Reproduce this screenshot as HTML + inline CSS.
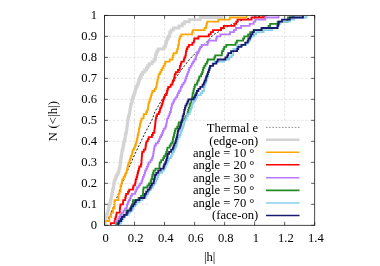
<!DOCTYPE html>
<html><head><meta charset="utf-8"><title>plot</title>
<style>
html,body{margin:0;padding:0;background:#fff;}
body{width:380px;height:266px;position:relative;overflow:hidden;font-family:"Liberation Serif",serif;font-size:12.6px;color:#000;}
.yt{position:absolute;left:39.6px;width:57.5px;text-align:right;line-height:14px;height:14px;}
.xt{position:absolute;top:231.3px;width:40px;text-align:center;line-height:14px;height:14px;}
.lg{position:absolute;left:150px;width:107.5px;text-align:right;line-height:14px;height:14px;white-space:nowrap;}
.xl{position:absolute;left:189.6px;width:40px;top:250.2px;text-align:center;line-height:14px;}
.yl{position:absolute;left:3.4px;top:113.5px;letter-spacing:0.15px;width:100px;height:14px;line-height:14px;text-align:center;transform:rotate(-90deg);transform-origin:50% 50%;white-space:nowrap;}
.txt{position:absolute;left:0;top:0;width:380px;height:266px;will-change:transform;transform:translateZ(0);}
</style></head><body>
<svg width="380" height="266" viewBox="0 0 380 266" style="position:absolute;left:0;top:0">
<g stroke="#d8d8dc" stroke-width="0.7" stroke-dasharray="2.3,1.8" fill="none"><line x1="134.53" y1="15.40" x2="134.53" y2="225.30"/><line x1="164.56" y1="15.40" x2="164.56" y2="225.30"/><line x1="194.59" y1="15.40" x2="194.59" y2="225.30"/><line x1="224.61" y1="15.40" x2="224.61" y2="225.30"/><line x1="254.64" y1="15.40" x2="254.64" y2="225.30"/><line x1="284.67" y1="15.40" x2="284.67" y2="225.30"/><line x1="104.50" y1="204.31" x2="314.70" y2="204.31"/><line x1="104.50" y1="183.32" x2="314.70" y2="183.32"/><line x1="104.50" y1="162.33" x2="314.70" y2="162.33"/><line x1="104.50" y1="141.34" x2="314.70" y2="141.34"/><line x1="104.50" y1="120.35" x2="314.70" y2="120.35"/><line x1="104.50" y1="99.36" x2="314.70" y2="99.36"/><line x1="104.50" y1="78.37" x2="314.70" y2="78.37"/><line x1="104.50" y1="57.38" x2="314.70" y2="57.38"/><line x1="104.50" y1="36.39" x2="314.70" y2="36.39"/></g>
<rect x="150" y="121" width="161" height="103" fill="#fff"/>
<g stroke="#1a1a1a" stroke-width="0.7"><line x1="104.50" y1="225.30" x2="104.50" y2="221.80"/><line x1="104.50" y1="15.40" x2="104.50" y2="18.90"/><line x1="134.53" y1="225.30" x2="134.53" y2="221.80"/><line x1="134.53" y1="15.40" x2="134.53" y2="18.90"/><line x1="164.56" y1="225.30" x2="164.56" y2="221.80"/><line x1="164.56" y1="15.40" x2="164.56" y2="18.90"/><line x1="194.59" y1="225.30" x2="194.59" y2="221.80"/><line x1="194.59" y1="15.40" x2="194.59" y2="18.90"/><line x1="224.61" y1="225.30" x2="224.61" y2="221.80"/><line x1="224.61" y1="15.40" x2="224.61" y2="18.90"/><line x1="254.64" y1="225.30" x2="254.64" y2="221.80"/><line x1="254.64" y1="15.40" x2="254.64" y2="18.90"/><line x1="284.67" y1="225.30" x2="284.67" y2="221.80"/><line x1="284.67" y1="15.40" x2="284.67" y2="18.90"/><line x1="314.70" y1="225.30" x2="314.70" y2="221.80"/><line x1="314.70" y1="15.40" x2="314.70" y2="18.90"/><line x1="104.50" y1="225.30" x2="108.00" y2="225.30"/><line x1="314.70" y1="225.30" x2="311.20" y2="225.30"/><line x1="104.50" y1="204.31" x2="108.00" y2="204.31"/><line x1="314.70" y1="204.31" x2="311.20" y2="204.31"/><line x1="104.50" y1="183.32" x2="108.00" y2="183.32"/><line x1="314.70" y1="183.32" x2="311.20" y2="183.32"/><line x1="104.50" y1="162.33" x2="108.00" y2="162.33"/><line x1="314.70" y1="162.33" x2="311.20" y2="162.33"/><line x1="104.50" y1="141.34" x2="108.00" y2="141.34"/><line x1="314.70" y1="141.34" x2="311.20" y2="141.34"/><line x1="104.50" y1="120.35" x2="108.00" y2="120.35"/><line x1="314.70" y1="120.35" x2="311.20" y2="120.35"/><line x1="104.50" y1="99.36" x2="108.00" y2="99.36"/><line x1="314.70" y1="99.36" x2="311.20" y2="99.36"/><line x1="104.50" y1="78.37" x2="108.00" y2="78.37"/><line x1="314.70" y1="78.37" x2="311.20" y2="78.37"/><line x1="104.50" y1="57.38" x2="108.00" y2="57.38"/><line x1="314.70" y1="57.38" x2="311.20" y2="57.38"/><line x1="104.50" y1="36.39" x2="108.00" y2="36.39"/><line x1="314.70" y1="36.39" x2="311.20" y2="36.39"/><line x1="104.50" y1="15.40" x2="108.00" y2="15.40"/><line x1="314.70" y1="15.40" x2="311.20" y2="15.40"/></g>
<clipPath id="c"><rect x="104.50" y="15.40" width="210.20" height="209.90"/></clipPath><g clip-path="url(#c)">
<polyline points="104.5,225.0 108.0,219.5 110.4,214.5 112.8,208.5 115.3,201.5 118.0,195.0 120.0,189.5 122.1,183.5 124.7,177.0 126.9,172.0 128.9,167.6 134.0,156.0 139.3,145.0 145.5,132.0 152.0,120.0 155.0,111.6 162.5,98.8 168.0,90.0 175.0,78.8 182.0,69.0 190.0,58.8 197.6,51.0 206.5,42.3 213.3,34.8 217.5,32.5 225.0,28.0 232.0,24.5 240.0,20.8 249.0,18.2 258.0,16.5 268.0,15.6" fill="none" stroke="#000" stroke-width="0.9" stroke-dasharray="2,1.7"/>
<polyline points="104.5,225.3 104.5,225.3 104.5,223.2 105.1,223.2 105.1,221.1 105.5,221.1 105.5,219.0 105.9,219.0 105.9,216.9 106.5,216.9 106.5,214.8 107.1,214.8 107.1,212.7 107.8,212.7 107.8,210.6 108.5,210.6 108.5,208.5 108.8,208.5 108.8,206.4 109.4,206.4 109.4,204.3 110.2,204.3 110.2,202.2 110.5,202.2 110.5,200.1 111.1,200.1 111.1,198.0 111.3,198.0 111.3,195.9 111.8,195.9 111.8,193.8 112.3,193.8 112.3,191.7 112.5,191.7 112.5,189.6 113.2,189.6 113.2,187.5 113.6,187.5 113.6,185.4 113.8,185.4 113.8,183.3 114.2,183.3 114.2,181.2 114.8,181.2 114.8,179.1 115.7,179.1 115.7,177.0 116.6,177.0 116.6,174.9 117.8,174.9 117.8,172.8 118.7,172.8 118.7,170.7 119.1,170.7 119.1,168.6 119.7,168.6 119.7,166.5 120.1,166.5 120.1,164.4 120.4,164.4 120.4,162.3 120.6,162.3 120.6,160.2 120.9,160.2 120.9,158.1 121.2,158.1 121.2,156.0 121.6,156.0 121.6,153.9 121.9,153.9 121.9,151.8 122.2,151.8 122.2,149.7 122.9,149.7 122.9,147.6 123.2,147.6 123.2,145.5 123.7,145.5 123.7,143.4 124.0,143.4 124.0,141.3 124.7,141.3 124.7,139.2 125.1,139.2 125.1,137.1 125.3,137.1 125.3,135.0 125.8,135.0 125.8,132.9 126.4,132.9 126.4,130.8 126.7,130.8 126.7,128.7 127.0,128.7 127.0,126.6 127.2,126.6 127.2,124.5 127.5,124.5 127.5,122.4 127.7,122.4 127.7,120.4 127.9,120.4 127.9,118.3 128.5,118.3 128.5,116.2 129.1,116.2 129.1,114.1 129.6,114.1 129.6,112.0 129.9,112.0 129.9,109.9 130.3,109.9 130.3,107.8 130.6,107.8 130.6,105.7 131.0,105.7 131.0,103.6 131.8,103.6 131.8,101.5 132.2,101.5 132.2,99.4 132.7,99.4 132.7,97.3 133.5,97.3 133.5,95.2 134.2,95.2 134.2,93.1 134.9,93.1 134.9,91.0 135.5,91.0 135.5,88.9 136.2,88.9 136.2,86.8 137.1,86.8 137.1,84.7 138.1,84.7 138.1,82.6 138.7,82.6 138.7,80.5 139.4,80.5 139.4,78.4 140.3,78.4 140.3,76.3 141.2,76.3 141.2,74.2 142.6,74.2 142.6,72.1 144.6,72.1 144.6,70.0 146.5,70.0 146.5,67.9 147.7,67.9 147.7,65.8 149.2,65.8 149.2,63.7 152.0,63.7 152.0,61.6 154.0,61.6 154.0,59.5 155.2,59.5 155.2,57.4 155.6,57.4 155.6,55.3 156.0,55.3 156.0,53.2 156.9,53.2 156.9,51.1 158.1,51.1 158.1,49.0 163.9,49.0 163.9,46.9 165.3,46.9 165.3,44.8 165.9,44.8 165.9,42.7 166.5,42.7 166.5,40.6 167.1,40.6 167.1,38.5 168.3,38.5 168.3,36.4 169.6,36.4 169.6,34.3 169.8,34.3 169.8,32.2 171.0,32.2 171.0,30.1 173.4,30.1 173.4,28.0 179.0,28.0 179.0,25.9 182.2,25.9 182.2,23.8 184.5,23.8 184.5,21.7 189.3,21.7 189.3,19.6 200.3,19.6 200.3,17.5 222.0,17.5 222.0,15.4" fill="none" stroke="#d3d3d3" stroke-width="2.9" stroke-linejoin="miter"/>
<polyline points="104.5,225.3 104.5,225.3 104.5,223.2 104.5,223.2 104.5,221.1 109.3,221.1 109.3,219.0 109.3,219.0 109.3,216.9 111.2,216.9 111.2,214.8 111.2,214.8 111.2,212.7 113.0,212.7 113.0,210.6 113.0,210.6 113.0,208.5 114.5,208.5 114.5,206.4 114.5,206.4 114.5,204.3 114.5,204.3 114.5,202.2 114.5,202.2 114.5,200.1 118.5,200.1 118.5,198.0 118.5,198.0 118.5,195.9 118.5,195.9 118.5,193.8 119.5,193.8 119.5,191.7 120.5,191.7 120.5,189.6 120.5,189.6 120.5,187.5 120.5,187.5 120.5,185.4 121.4,185.4 121.4,183.3 121.9,183.3 121.9,181.2 122.4,181.2 122.4,179.1 123.7,179.1 123.7,177.0 124.7,177.0 124.7,174.9 125.6,174.9 125.6,172.8 126.6,172.8 126.6,170.7 127.0,170.7 127.0,168.6 127.6,168.6 127.6,166.5 128.0,166.5 128.0,164.4 128.7,164.4 128.7,162.3 129.6,162.3 129.6,160.2 130.2,160.2 130.2,158.1 131.0,158.1 131.0,156.0 131.8,156.0 131.8,153.9 132.3,153.9 132.3,151.8 132.8,151.8 132.8,149.7 134.0,149.7 134.0,147.6 135.0,147.6 135.0,145.5 135.8,145.5 135.8,143.4 136.4,143.4 136.4,141.3 136.9,141.3 136.9,139.2 137.4,139.2 137.4,137.1 137.7,137.1 137.7,135.0 138.3,135.0 138.3,132.9 138.7,132.9 138.7,130.8 138.9,130.8 138.9,128.7 139.5,128.7 139.5,126.6 139.9,126.6 139.9,124.5 140.3,124.5 140.3,122.4 141.0,122.4 141.0,120.4 141.6,120.4 141.6,118.3 143.5,118.3 143.5,116.2 143.8,116.2 143.8,114.1 146.2,114.1 146.2,112.0 147.2,112.0 147.2,109.9 147.9,109.9 147.9,107.8 148.2,107.8 148.2,105.7 148.4,105.7 148.4,103.6 149.0,103.6 149.0,101.5 149.7,101.5 149.7,99.4 150.4,99.4 150.4,97.3 151.1,97.3 151.1,95.2 151.7,95.2 151.7,93.1 152.3,93.1 152.3,91.0 154.6,91.0 154.6,88.9 155.9,88.9 155.9,86.8 156.6,86.8 156.6,84.7 156.8,84.7 156.8,82.6 157.4,82.6 157.4,80.5 157.7,80.5 157.7,78.4 158.3,78.4 158.3,76.3 158.7,76.3 158.7,74.2 160.0,74.2 160.0,72.1 161.2,72.1 161.2,70.0 162.3,70.0 162.3,67.9 163.5,67.9 163.5,65.8 164.6,65.8 164.6,63.7 165.4,63.7 165.4,61.6 169.7,61.6 169.7,59.5 172.5,59.5 172.5,57.4 172.9,57.4 172.9,55.3 173.6,55.3 173.6,53.2 176.5,53.2 176.5,51.1 177.2,51.1 177.2,49.0 177.9,49.0 177.9,46.9 178.2,46.9 178.2,44.8 178.9,44.8 178.9,42.7 179.0,42.7 179.0,40.6 179.4,40.6 179.4,38.5 180.0,38.5 180.0,36.4 181.4,36.4 181.4,34.3 192.1,34.3 192.1,32.2 192.8,32.2 192.8,30.1 204.6,30.1 204.6,28.0 206.1,28.0 206.1,25.9 206.5,25.9 206.5,23.8 207.2,23.8 207.2,21.7 218.4,21.7 218.4,19.6 229.7,19.6 229.7,17.5 246.5,17.5 246.5,15.4" fill="none" stroke="#ffa500" stroke-width="1.8" stroke-linejoin="miter"/>
<polyline points="110.8,225.3 110.8,225.3 110.8,223.2 114.6,223.2 114.6,221.1 115.0,221.1 115.0,219.0 115.6,219.0 115.6,216.9 116.2,216.9 116.2,214.8 116.6,214.8 116.6,212.7 119.8,212.7 119.8,210.6 119.8,210.6 119.8,208.5 120.1,208.5 120.1,206.4 120.5,206.4 120.5,204.3 123.0,204.3 123.0,202.2 123.2,202.2 123.2,200.1 125.2,200.1 125.2,198.0 125.6,198.0 125.6,195.9 126.1,195.9 126.1,193.8 128.0,193.8 128.0,191.7 129.2,191.7 129.2,189.6 133.0,189.6 133.0,187.5 133.4,187.5 133.4,185.4 135.0,185.4 135.0,183.3 135.5,183.3 135.5,181.2 135.8,181.2 135.8,179.1 136.6,179.1 136.6,177.0 137.2,177.0 137.2,174.9 137.6,174.9 137.6,172.8 138.1,172.8 138.1,170.7 138.9,170.7 138.9,168.6 139.3,168.6 139.3,166.5 140.9,166.5 140.9,164.4 141.4,164.4 141.4,162.3 141.5,162.3 141.5,160.2 141.7,160.2 141.7,158.1 141.8,158.1 141.8,156.0 142.0,156.0 142.0,153.9 142.2,153.9 142.2,151.8 143.8,151.8 143.8,149.7 145.4,149.7 145.4,147.6 145.6,147.6 145.6,145.5 146.0,145.5 146.0,143.4 146.4,143.4 146.4,141.3 147.8,141.3 147.8,139.2 148.8,139.2 148.8,137.1 151.9,137.1 151.9,135.0 152.9,135.0 152.9,132.9 154.3,132.9 154.3,130.8 154.5,130.8 154.5,128.7 154.8,128.7 154.8,126.6 155.1,126.6 155.1,124.5 155.3,124.5 155.3,122.4 155.5,122.4 155.5,120.4 155.8,120.4 155.8,118.3 156.3,118.3 156.3,116.2 157.1,116.2 157.1,114.1 158.9,114.1 158.9,112.0 159.8,112.0 159.8,109.9 160.2,109.9 160.2,107.8 161.3,107.8 161.3,105.7 162.0,105.7 162.0,103.6 162.7,103.6 162.7,101.5 163.2,101.5 163.2,99.4 164.0,99.4 164.0,97.3 164.8,97.3 164.8,95.2 166.5,95.2 166.5,93.1 167.0,93.1 167.0,91.0 167.5,91.0 167.5,88.9 168.2,88.9 168.2,86.8 170.6,86.8 170.6,84.7 172.4,84.7 172.4,82.6 172.8,82.6 172.8,80.5 174.0,80.5 174.0,78.4 174.4,78.4 174.4,76.3 174.8,76.3 174.8,74.2 175.8,74.2 175.8,72.1 177.9,72.1 177.9,70.0 179.7,70.0 179.7,67.9 179.9,67.9 179.9,65.8 180.8,65.8 180.8,63.7 181.4,63.7 181.4,61.6 183.8,61.6 183.8,59.5 184.4,59.5 184.4,57.4 185.3,57.4 185.3,55.3 185.8,55.3 185.8,53.2 186.0,53.2 186.0,51.1 186.6,51.1 186.6,49.0 187.4,49.0 187.4,46.9 188.9,46.9 188.9,44.8 192.4,44.8 192.4,42.7 193.9,42.7 193.9,40.6 194.3,40.6 194.3,38.5 198.4,38.5 198.4,36.4 208.8,36.4 208.8,34.3 210.8,34.3 210.8,32.2 213.0,32.2 213.0,30.1 221.0,30.1 221.0,28.0 223.7,28.0 223.7,25.9 234.6,25.9 234.6,23.8 236.2,23.8 236.2,21.7 237.5,21.7 237.5,19.6 251.5,19.6 251.5,17.5 264.5,17.5 264.5,15.4" fill="none" stroke="#ff0000" stroke-width="1.8" stroke-linejoin="miter"/>
<polyline points="115.7,225.3 115.7,225.3 115.7,223.2 115.7,223.2 115.7,221.1 118.3,221.1 118.3,219.0 119.2,219.0 119.2,216.9 120.2,216.9 120.2,214.8 121.6,214.8 121.6,212.7 123.5,212.7 123.5,210.6 125.0,210.6 125.0,208.5 126.7,208.5 126.7,206.4 127.0,206.4 127.0,204.3 127.9,204.3 127.9,202.2 128.8,202.2 128.8,200.1 130.1,200.1 130.1,198.0 130.7,198.0 130.7,195.9 132.0,195.9 132.0,193.8 135.2,193.8 135.2,191.7 136.1,191.7 136.1,189.6 137.0,189.6 137.0,187.5 138.7,187.5 138.7,185.4 140.1,185.4 140.1,183.3 141.6,183.3 141.6,181.2 142.3,181.2 142.3,179.1 142.9,179.1 142.9,177.0 143.8,177.0 143.8,174.9 144.7,174.9 144.7,172.8 145.1,172.8 145.1,170.7 146.2,170.7 146.2,168.6 147.1,168.6 147.1,166.5 148.0,166.5 148.0,164.4 148.7,164.4 148.7,162.3 150.5,162.3 150.5,160.2 151.9,160.2 151.9,158.1 152.7,158.1 152.7,156.0 153.2,156.0 153.2,153.9 153.5,153.9 153.5,151.8 153.8,151.8 153.8,149.7 154.2,149.7 154.2,147.6 154.6,147.6 154.6,145.5 155.9,145.5 155.9,143.4 157.9,143.4 157.9,141.3 159.1,141.3 159.1,139.2 159.9,139.2 159.9,137.1 161.1,137.1 161.1,135.0 162.2,135.0 162.2,132.9 162.9,132.9 162.9,130.8 163.7,130.8 163.7,128.7 165.4,128.7 165.4,126.6 166.1,126.6 166.1,124.5 166.5,124.5 166.5,122.4 166.9,122.4 166.9,120.4 167.2,120.4 167.2,118.3 168.4,118.3 168.4,116.2 169.3,116.2 169.3,114.1 169.9,114.1 169.9,112.0 170.8,112.0 170.8,109.9 171.0,109.9 171.0,107.8 171.6,107.8 171.6,105.7 172.0,105.7 172.0,103.6 173.3,103.6 173.3,101.5 174.2,101.5 174.2,99.4 175.6,99.4 175.6,97.3 177.1,97.3 177.1,95.2 177.8,95.2 177.8,93.1 179.0,93.1 179.0,91.0 180.4,91.0 180.4,88.9 180.8,88.9 180.8,86.8 182.0,86.8 182.0,84.7 183.5,84.7 183.5,82.6 184.8,82.6 184.8,80.5 185.6,80.5 185.6,78.4 186.2,78.4 186.2,76.3 187.1,76.3 187.1,74.2 187.8,74.2 187.8,72.1 188.7,72.1 188.7,70.0 189.3,70.0 189.3,67.9 190.6,67.9 190.6,65.8 191.7,65.8 191.7,63.7 193.0,63.7 193.0,61.6 194.3,61.6 194.3,59.5 195.8,59.5 195.8,57.4 196.1,57.4 196.1,55.3 197.0,55.3 197.0,53.2 198.4,53.2 198.4,51.1 199.3,51.1 199.3,49.0 200.1,49.0 200.1,46.9 201.6,46.9 201.6,44.8 207.6,44.8 207.6,42.7 208.4,42.7 208.4,40.6 216.1,40.6 216.1,38.5 216.8,38.5 216.8,36.4 220.4,36.4 220.4,34.3 230.0,34.3 230.0,32.2 233.9,32.2 233.9,30.1 235.9,30.1 235.9,28.0 241.0,28.0 241.0,25.9 249.7,25.9 249.7,23.8 253.6,23.8 253.6,21.7 255.3,21.7 255.3,19.6 265.3,19.6 265.3,17.5 278.5,17.5 278.5,15.4" fill="none" stroke="#b878ff" stroke-width="1.8" stroke-linejoin="miter"/>
<polyline points="117.0,225.3 117.0,225.3 117.0,223.2 119.4,223.2 119.4,221.1 120.7,221.1 120.7,219.0 122.0,219.0 122.0,216.9 123.6,216.9 123.6,214.8 126.3,214.8 126.3,212.7 126.9,212.7 126.9,210.6 129.7,210.6 129.7,208.5 131.1,208.5 131.1,206.4 131.9,206.4 131.9,204.3 132.8,204.3 132.8,202.2 133.0,202.2 133.0,200.1 138.6,200.1 138.6,198.0 141.1,198.0 141.1,195.9 142.9,195.9 142.9,193.8 143.1,193.8 143.1,191.7 143.2,191.7 143.2,189.6 143.5,189.6 143.5,187.5 147.4,187.5 147.4,185.4 149.0,185.4 149.0,183.3 150.6,183.3 150.6,181.2 151.2,181.2 151.2,179.1 152.1,179.1 152.1,177.0 152.3,177.0 152.3,174.9 153.0,174.9 153.0,172.8 153.6,172.8 153.6,170.7 155.4,170.7 155.4,168.6 159.4,168.6 159.4,166.5 159.5,166.5 159.5,164.4 159.7,164.4 159.7,162.3 161.2,162.3 161.2,160.2 163.1,160.2 163.1,158.1 164.1,158.1 164.1,156.0 165.6,156.0 165.6,153.9 166.3,153.9 166.3,151.8 167.0,151.8 167.0,149.7 167.4,149.7 167.4,147.6 169.7,147.6 169.7,145.5 170.8,145.5 170.8,143.4 172.3,143.4 172.3,141.3 172.9,141.3 172.9,139.2 173.2,139.2 173.2,137.1 173.9,137.1 173.9,135.0 174.3,135.0 174.3,132.9 174.8,132.9 174.8,130.8 175.4,130.8 175.4,128.7 177.2,128.7 177.2,126.6 178.4,126.6 178.4,124.5 178.8,124.5 178.8,122.4 182.2,122.4 182.2,120.4 184.6,120.4 184.6,118.3 185.7,118.3 185.7,116.2 187.3,116.2 187.3,114.1 187.7,114.1 187.7,112.0 188.2,112.0 188.2,109.9 188.7,109.9 188.7,107.8 189.6,107.8 189.6,105.7 190.0,105.7 190.0,103.6 191.2,103.6 191.2,101.5 191.3,101.5 191.3,99.4 192.0,99.4 192.0,97.3 192.5,97.3 192.5,95.2 192.6,95.2 192.6,93.1 193.4,93.1 193.4,91.0 193.7,91.0 193.7,88.9 194.4,88.9 194.4,86.8 194.9,86.8 194.9,84.7 197.0,84.7 197.0,82.6 197.6,82.6 197.6,80.5 198.8,80.5 198.8,78.4 199.3,78.4 199.3,76.3 201.1,76.3 201.1,74.2 202.1,74.2 202.1,72.1 202.8,72.1 202.8,70.0 203.3,70.0 203.3,67.9 204.3,67.9 204.3,65.8 205.5,65.8 205.5,63.7 207.0,63.7 207.0,61.6 207.7,61.6 207.7,59.5 214.3,59.5 214.3,57.4 215.2,57.4 215.2,55.3 221.8,55.3 221.8,53.2 222.1,53.2 222.1,51.1 223.4,51.1 223.4,49.0 224.2,49.0 224.2,46.9 226.3,46.9 226.3,44.8 235.6,44.8 235.6,42.7 236.9,42.7 236.9,40.6 243.1,40.6 243.1,38.5 244.3,38.5 244.3,36.4 248.1,36.4 248.1,34.3 250.2,34.3 250.2,32.2 253.5,32.2 253.5,30.1 261.8,30.1 261.8,28.0 268.5,28.0 268.5,25.9 270.1,25.9 270.1,23.8 277.7,23.8 277.7,21.7 287.4,21.7 287.4,19.6 287.9,19.6 287.9,17.5 293.5,17.5 293.5,15.4" fill="none" stroke="#228b22" stroke-width="1.8" stroke-linejoin="miter"/>
<polyline points="119.5,225.3 119.6,225.3 119.6,223.2 121.2,223.2 121.2,221.1 122.4,221.1 122.4,219.0 123.7,219.0 123.7,216.9 125.1,216.9 125.1,214.8 128.6,214.8 128.6,212.7 130.4,212.7 130.4,210.6 132.4,210.6 132.4,208.5 133.2,208.5 133.2,206.4 135.3,206.4 135.3,204.3 136.5,204.3 136.5,202.2 139.5,202.2 139.5,200.1 142.6,200.1 142.6,198.0 145.6,198.0 145.6,195.9 146.8,195.9 146.8,193.8 148.3,193.8 148.3,191.7 149.1,191.7 149.1,189.6 151.2,189.6 151.2,187.5 153.0,187.5 153.0,185.4 153.9,185.4 153.9,183.3 155.5,183.3 155.5,181.2 156.4,181.2 156.4,179.1 157.2,179.1 157.2,177.0 158.0,177.0 158.0,174.9 159.0,174.9 159.0,172.8 162.2,172.8 162.2,170.7 163.9,170.7 163.9,168.6 165.0,168.6 165.0,166.5 165.9,166.5 165.9,164.4 166.9,164.4 166.9,162.3 168.0,162.3 168.0,160.2 168.9,160.2 168.9,158.1 170.9,158.1 170.9,156.0 171.8,156.0 171.8,153.9 172.8,153.9 172.8,151.8 174.2,151.8 174.2,149.7 174.9,149.7 174.9,147.6 176.0,147.6 176.0,145.5 176.8,145.5 176.8,143.4 177.2,143.4 177.2,141.3 177.8,141.3 177.8,139.2 178.4,139.2 178.4,137.1 179.6,137.1 179.6,135.0 180.7,135.0 180.7,132.9 181.0,132.9 181.0,130.8 182.0,130.8 182.0,128.7 182.9,128.7 182.9,126.6 183.5,126.6 183.5,124.5 184.2,124.5 184.2,122.4 184.5,122.4 184.5,120.4 185.7,120.4 185.7,118.3 186.6,118.3 186.6,116.2 187.5,116.2 187.5,114.1 189.5,114.1 189.5,112.0 190.4,112.0 190.4,109.9 191.1,109.9 191.1,107.8 191.9,107.8 191.9,105.7 192.4,105.7 192.4,103.6 193.2,103.6 193.2,101.5 194.8,101.5 194.8,99.4 196.2,99.4 196.2,97.3 197.0,97.3 197.0,95.2 200.7,95.2 200.7,93.1 202.3,93.1 202.3,91.0 204.0,91.0 204.0,88.9 204.0,88.9 204.0,86.8 204.8,86.8 204.8,84.7 205.5,84.7 205.5,82.6 206.2,82.6 206.2,80.5 206.8,80.5 206.8,78.4 207.3,78.4 207.3,76.3 208.1,76.3 208.1,74.2 208.3,74.2 208.3,72.1 208.9,72.1 208.9,70.0 209.5,70.0 209.5,67.9 210.6,67.9 210.6,65.8 212.5,65.8 212.5,63.7 214.8,63.7 214.8,61.6 224.1,61.6 224.1,59.5 229.2,59.5 229.2,57.4 231.4,57.4 231.4,55.3 233.1,55.3 233.1,53.2 233.2,53.2 233.2,51.1 233.4,51.1 233.4,49.0 236.8,49.0 236.8,46.9 238.2,46.9 238.2,44.8 246.3,44.8 246.3,42.7 248.8,42.7 248.8,40.6 250.1,40.6 250.1,38.5 251.3,38.5 251.3,36.4 253.9,36.4 253.9,34.3 256.2,34.3 256.2,32.2 263.6,32.2 263.6,30.1 272.3,30.1 272.3,28.0 278.0,28.0 278.0,25.9 279.1,25.9 279.1,23.8 280.3,23.8 280.3,21.7 289.8,21.7 289.8,19.6 294.2,19.6 294.2,17.5 306.5,17.5 306.5,15.4" fill="none" stroke="#87ceeb" stroke-width="1.8" stroke-linejoin="miter"/>
<polyline points="118.3,225.3 118.3,225.3 118.3,223.2 118.9,223.2 118.9,221.1 121.1,221.1 121.1,219.0 122.0,219.0 122.0,216.9 124.3,216.9 124.3,214.8 126.8,214.8 126.8,212.7 127.8,212.7 127.8,210.6 130.8,210.6 130.8,208.5 131.5,208.5 131.5,206.4 133.2,206.4 133.2,204.3 134.7,204.3 134.7,202.2 135.9,202.2 135.9,200.1 139.5,200.1 139.5,198.0 144.4,198.0 144.4,195.9 144.9,195.9 144.9,193.8 146.2,193.8 146.2,191.7 147.7,191.7 147.7,189.6 149.6,189.6 149.6,187.5 150.7,187.5 150.7,185.4 151.9,185.4 151.9,183.3 153.7,183.3 153.7,181.2 154.0,181.2 154.0,179.1 154.6,179.1 154.6,177.0 155.0,177.0 155.0,174.9 156.3,174.9 156.3,172.8 158.2,172.8 158.2,170.7 160.6,170.7 160.6,168.6 163.5,168.6 163.5,166.5 164.1,166.5 164.1,164.4 165.2,164.4 165.2,162.3 166.1,162.3 166.1,160.2 166.7,160.2 166.7,158.1 167.3,158.1 167.3,156.0 167.7,156.0 167.7,153.9 169.1,153.9 169.1,151.8 171.1,151.8 171.1,149.7 172.9,149.7 172.9,147.6 173.6,147.6 173.6,145.5 174.4,145.5 174.4,143.4 175.4,143.4 175.4,141.3 176.0,141.3 176.0,139.2 176.6,139.2 176.6,137.1 177.2,137.1 177.2,135.0 177.6,135.0 177.6,132.9 177.9,132.9 177.9,130.8 178.6,130.8 178.6,128.7 179.9,128.7 179.9,126.6 180.7,126.6 180.7,124.5 181.2,124.5 181.2,122.4 181.5,122.4 181.5,120.4 182.4,120.4 182.4,118.3 182.7,118.3 182.7,116.2 183.4,116.2 183.4,114.1 184.1,114.1 184.1,112.0 184.3,112.0 184.3,109.9 184.9,109.9 184.9,107.8 185.4,107.8 185.4,105.7 186.5,105.7 186.5,103.6 187.5,103.6 187.5,101.5 188.4,101.5 188.4,99.4 193.7,99.4 193.7,97.3 195.0,97.3 195.0,95.2 196.1,95.2 196.1,93.1 196.9,93.1 196.9,91.0 198.4,91.0 198.4,88.9 200.3,88.9 200.3,86.8 202.6,86.8 202.6,84.7 203.8,84.7 203.8,82.6 204.6,82.6 204.6,80.5 205.8,80.5 205.8,78.4 206.2,78.4 206.2,76.3 207.2,76.3 207.2,74.2 207.9,74.2 207.9,72.1 208.7,72.1 208.7,70.0 209.4,70.0 209.4,67.9 210.0,67.9 210.0,65.8 213.1,65.8 213.1,63.7 216.4,63.7 216.4,61.6 217.6,61.6 217.6,59.5 225.4,59.5 225.4,57.4 227.3,57.4 227.3,55.3 228.3,55.3 228.3,53.2 231.1,53.2 231.1,51.1 237.2,51.1 237.2,49.0 238.3,49.0 238.3,46.9 241.5,46.9 241.5,44.8 245.2,44.8 245.2,42.7 247.7,42.7 247.7,40.6 248.4,40.6 248.4,38.5 250.0,38.5 250.0,36.4 251.1,36.4 251.1,34.3 252.5,34.3 252.5,32.2 253.9,32.2 253.9,30.1 261.5,30.1 261.5,28.0 277.4,28.0 277.4,25.9 278.1,25.9 278.1,23.8 278.8,23.8 278.8,21.7 282.0,21.7 282.0,19.6 289.8,19.6 289.8,17.5 303.0,17.5 303.0,15.4" fill="none" stroke="#191970" stroke-width="1.8" stroke-linejoin="miter"/>
</g>
<rect x="104.5" y="15.4" width="210.2" height="209.9" fill="none" stroke="#1a1a1a" stroke-width="0.8"/>
<line x1="266" y1="127.4" x2="299.5" y2="127.4" stroke="#444" stroke-width="0.6" stroke-dasharray="1.6,1.6"/>
<line x1="266" y1="139.7" x2="299.5" y2="139.7" stroke="#d3d3d3" stroke-width="2.61"/>
<line x1="266" y1="152.3" x2="299.5" y2="152.3" stroke="#ffa500" stroke-width="1.57"/>
<line x1="266" y1="164.7" x2="299.5" y2="164.7" stroke="#ff0000" stroke-width="1.57"/>
<line x1="266" y1="177.8" x2="299.5" y2="177.8" stroke="#b878ff" stroke-width="1.57"/>
<line x1="266" y1="190.4" x2="299.5" y2="190.4" stroke="#228b22" stroke-width="1.57"/>
<line x1="266" y1="203.0" x2="299.5" y2="203.0" stroke="#87ceeb" stroke-width="1.57"/>
<line x1="266" y1="215.5" x2="299.5" y2="215.5" stroke="#191970" stroke-width="1.57"/>
</svg>
<div class="txt">
<div class="yt" style="top:218.3px">0</div>
<div class="yt" style="top:197.3px">0.1</div>
<div class="yt" style="top:176.3px">0.2</div>
<div class="yt" style="top:155.3px">0.3</div>
<div class="yt" style="top:134.3px">0.4</div>
<div class="yt" style="top:113.4px">0.5</div>
<div class="yt" style="top:92.4px">0.6</div>
<div class="yt" style="top:71.4px">0.7</div>
<div class="yt" style="top:50.4px">0.8</div>
<div class="yt" style="top:29.4px">0.9</div>
<div class="yt" style="top:8.4px">1</div>
<div class="xt" style="left:85.7px">0</div>
<div class="xt" style="left:115.7px">0.2</div>
<div class="xt" style="left:145.8px">0.4</div>
<div class="xt" style="left:175.8px">0.6</div>
<div class="xt" style="left:205.8px">0.8</div>
<div class="xt" style="left:235.8px">1</div>
<div class="xt" style="left:265.9px">1.2</div>
<div class="xt" style="left:295.9px">1.4</div>
<div class="lg" style="top:121.0px;width:108.2px">Thermal e</div>
<div class="lg" style="top:133.5px;width:108.2px">(edge-on)</div>
<div class="lg" style="top:146.0px;width:104.4px">angle = 10 °</div>
<div class="lg" style="top:158.2px;width:104.4px">angle = 20 °</div>
<div class="lg" style="top:170.8px;width:104.4px">angle = 30 °</div>
<div class="lg" style="top:183.3px;width:104.4px">angle = 50 °</div>
<div class="lg" style="top:195.8px;width:104.4px">angle = 70 °</div>
<div class="lg" style="top:208.3px;width:108.2px">(face-on)</div>
<div class="xl">|h|</div>
<div class="yl">N (&lt;|h|)</div>
</div>
</body></html>
